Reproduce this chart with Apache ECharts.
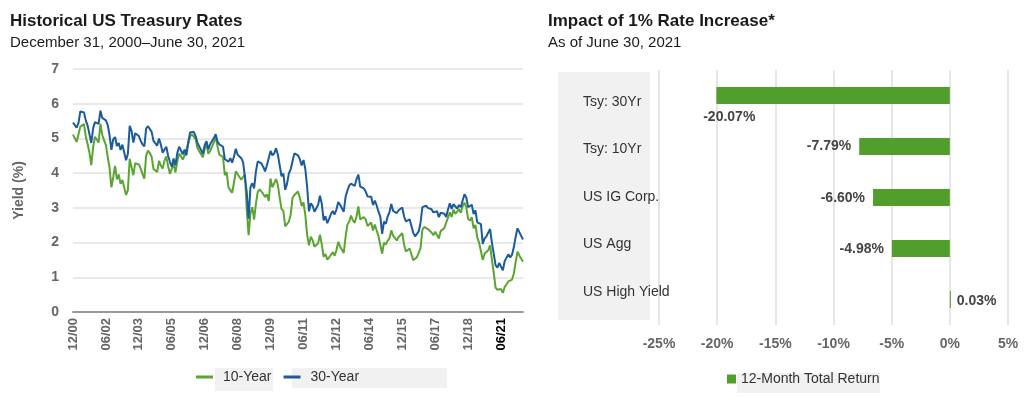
<!DOCTYPE html>
<html>
<head>
<meta charset="utf-8">
<script src="https://cdn.jsdelivr.net/npm/echarts@6/dist/echarts.min.js"></script>
<style>
  html, body { margin: 0; padding: 0; background: #fff; }
  #main { width: 1024px; height: 397px; }
</style>
</head>
<body>
<div id="main"></div>
<script>
// month-end yields, 12/2000 - 06/2021
var tenYear = [
    5.11,
    5.11, 4.90, 4.92, 5.34, 5.38, 5.41, 5.05, 4.83, 4.59, 4.23, 4.75, 5.05,
    5.03, 4.88, 5.42, 5.10, 5.05, 4.80, 4.46, 4.14, 3.59, 3.89, 4.21, 3.82,
    3.96, 3.69, 3.80, 3.84, 3.37, 3.51, 4.41, 4.46, 3.94, 4.29, 4.33, 4.25,
    4.13, 3.97, 3.84, 4.51, 4.65, 4.58, 4.47, 4.12, 4.12, 4.03, 4.35, 4.22,
    4.13, 4.36, 4.48, 4.20, 3.98, 3.94, 4.28, 4.02, 4.33, 4.56, 4.49, 4.39,
    4.52, 4.55, 4.85, 5.05, 5.12, 5.14, 4.98, 4.73, 4.63, 4.60, 4.46, 4.70,
    4.82, 4.56, 4.64, 4.63, 4.89, 5.03, 4.77, 4.53, 4.58, 4.47, 3.94, 4.03,
    3.59, 3.51, 3.43, 3.73, 4.05, 3.97, 3.95, 3.81, 3.83, 3.97, 2.92, 2.21,
    2.84, 3.02, 2.66, 3.12, 3.46, 3.53, 3.48, 3.40, 3.31, 3.39, 3.20, 3.84,
    3.59, 3.61, 3.83, 3.66, 3.29, 2.97, 2.91, 2.47, 2.51, 2.60, 2.80, 3.29,
    3.37, 3.42, 3.47, 3.29, 3.05, 3.16, 2.80, 2.22, 1.92, 2.17, 2.07, 1.88,
    1.83, 1.98, 2.23, 1.95, 1.59, 1.67, 1.51, 1.57, 1.65, 1.72, 1.62, 1.78,
    2.02, 1.89, 1.87, 1.70, 2.16, 2.52, 2.60, 2.78, 2.64, 2.57, 2.75, 3.04,
    2.67, 2.66, 2.73, 2.67, 2.48, 2.53, 2.58, 2.35, 2.52, 2.35, 2.18, 2.17,
    1.68, 2.00, 1.94, 2.05, 2.12, 2.35, 2.20, 2.22, 2.06, 2.16, 2.21, 2.27,
    1.94, 1.74, 1.78, 1.83, 1.85, 1.49, 1.46, 1.58, 1.60, 1.84, 2.37, 2.45,
    2.45, 2.39, 2.40, 2.29, 2.21, 2.31, 2.30, 2.12, 2.33, 2.38, 2.42, 2.40,
    2.72, 2.87, 2.74, 2.95, 2.83, 2.85, 2.96, 2.86, 3.05, 3.15, 3.01, 2.69,
    2.63, 2.73, 2.41, 2.51, 2.14, 2.00, 2.02, 1.50, 1.68, 1.69, 1.78, 1.92,
    1.51, 1.13, 0.70, 0.64, 0.65, 0.66, 0.55, 0.72, 0.69, 0.88, 0.84, 0.93,
    1.11, 1.44, 1.74, 1.63, 1.58, 1.45
];
var thirtyYear = [
    5.46,
    5.50, 5.31, 5.44, 5.78, 5.76, 5.75, 5.52, 5.37, 5.42, 4.87, 5.29, 5.47,
    5.43, 5.42, 5.80, 5.59, 5.62, 5.52, 5.38, 5.08, 4.67, 4.98, 5.04, 4.78,
    4.87, 4.67, 4.82, 4.77, 4.37, 4.56, 5.36, 5.22, 4.88, 5.15, 5.12, 5.07,
    4.93, 4.83, 4.77, 5.29, 5.35, 5.30, 5.19, 4.93, 4.88, 4.79, 5.00, 4.83,
    4.59, 4.68, 4.76, 4.50, 4.32, 4.19, 4.42, 4.23, 4.57, 4.76, 4.66, 4.54,
    4.68, 4.51, 4.89, 5.17, 5.15, 5.19, 5.07, 4.88, 4.77, 4.72, 4.56, 4.81,
    4.92, 4.68, 4.84, 4.81, 5.01, 5.12, 4.91, 4.83, 4.84, 4.76, 4.40, 4.45,
    4.33, 4.43, 4.30, 4.48, 4.70, 4.53, 4.58, 4.43, 4.31, 4.36, 3.44, 2.69,
    3.59, 3.71, 3.56, 4.05, 4.34, 4.32, 4.28, 4.18, 4.05, 4.23, 4.20, 4.64,
    4.51, 4.57, 4.72, 4.53, 4.22, 3.91, 3.99, 3.52, 3.69, 3.99, 4.11, 4.34,
    4.57, 4.53, 4.51, 4.40, 4.22, 4.38, 4.12, 3.60, 2.90, 3.13, 3.06, 2.89,
    2.94, 3.09, 3.35, 3.12, 2.64, 2.76, 2.56, 2.68, 2.82, 2.91, 2.81, 2.95,
    3.17, 3.09, 3.10, 2.89, 3.31, 3.50, 3.64, 3.70, 3.69, 3.63, 3.83, 3.96,
    3.61, 3.59, 3.56, 3.47, 3.33, 3.36, 3.32, 3.08, 3.21, 3.07, 2.89, 2.75,
    2.25, 2.60, 2.54, 2.75, 2.88, 3.11, 2.91, 2.93, 2.85, 2.93, 2.98, 3.01,
    2.75, 2.61, 2.61, 2.67, 2.64, 2.28, 2.18, 2.23, 2.32, 2.58, 3.02, 3.07,
    3.06, 3.00, 3.02, 2.96, 2.87, 2.84, 2.90, 2.73, 2.86, 2.88, 2.83, 2.74,
    2.95, 3.13, 2.97, 3.11, 3.04, 2.98, 3.08, 3.02, 3.21, 3.39, 3.30, 3.02,
    3.00, 3.09, 2.82, 2.93, 2.58, 2.53, 2.53, 1.96, 2.12, 2.18, 2.21, 2.39,
    2.00, 1.68, 1.35, 1.28, 1.41, 1.41, 1.20, 1.47, 1.46, 1.66, 1.57, 1.65,
    1.87, 2.17, 2.41, 2.30, 2.29, 2.09
];
var tickLabels = ['12/00', '06/02', '12/03', '06/05', '12/06', '06/08', '12/09',
    '06/11', '12/12', '06/14', '12/15', '06/17', '12/18', '06/21'];
var tickStep = 18;

var assets = ['Tsy: 30Yr', 'Tsy: 10Yr', 'US IG Corp.', 'US Agg', 'US High Yield'];
var totalReturn = [-20.07, -7.79, -6.60, -4.98, 0.03];

// month labels MM/YY starting 12/00
var months = [];
for (var i = 0; i < tenYear.length; i++) {
    var m = (11 + i) % 12 + 1;
    var y = Math.floor((11 + i) / 12);
    months.push((m < 10 ? '0' : '') + m + '/' + (y < 10 ? '0' : '') + y);
}

var green = '#5aa532';
var blue = '#1b5b9c';
var barGreen = '#519e2c';

// label spot for each bar: [position, offset]
var labelPos = [
    ['left', [45, 22]],
    ['left', [-2, 0]],
    ['left', [-2, 1]],
    ['left', [-2, 1]],
    ['right', [0, 2]]
];
var barData = totalReturn.map(function (v, i) {
    return {
        value: v,
        label: { position: labelPos[i][0], offset: labelPos[i][1] }
    };
});

var myChart = echarts.init(document.getElementById('main'));

var option = {
    animation: false,
    textStyle: { fontFamily: 'Liberation Sans, Arial, sans-serif' },
    title: [{
        text: 'Historical US Treasury Rates',
        subtext: 'December 31, 2000\u2013June 30, 2021',
        left: 10, top: 13, padding: 0, itemGap: 5,
        textStyle: { fontSize: 17, fontWeight: 'bold', color: '#1a1a1a' },
        subtextStyle: { fontSize: 15, color: '#1a1a1a' }
    }, {
        text: 'Impact of 1% Rate Increase*',
        subtext: 'As of June 30, 2021',
        left: 548, top: 13, padding: 0, itemGap: 5,
        textStyle: { fontSize: 17, fontWeight: 'bold', color: '#1a1a1a' },
        subtextStyle: { fontSize: 15, color: '#1a1a1a' }
    }],
    legend: [{
        left: 196, top: 370, padding: 0,
        itemWidth: 17, itemHeight: 3, itemGap: 12,
        textStyle: { fontSize: 14, color: '#333', padding: [0, 0, 0, 5] },
        data: [{ name: '10-Year', icon: 'rect' }, { name: '30-Year', icon: 'rect' }]
    }, {
        left: 727, top: 372, padding: 0,
        itemWidth: 9, itemHeight: 9,
        icon: 'rect',
        textStyle: { fontSize: 14, color: '#333' },
        data: ['12-Month Total Return']
    }],
    graphic: [
        { type: 'rect', z: -10, shape: { x: 215, y: 368, width: 58, height: 23 }, style: { fill: '#f1f1f1' } },
        { type: 'rect', z: -10, shape: { x: 292, y: 368, width: 155, height: 20 }, style: { fill: '#f1f1f1' } },
        { type: 'rect', z: -10, shape: { x: 737, y: 373, width: 143, height: 20 }, style: { fill: '#f1f1f1' } },
        { type: 'rect', z: -10, shape: { x: 558, y: 72, width: 92, height: 248 }, style: { fill: '#f1f1f1' } }
    ],
    grid: [
        { left: 73, top: 69, width: 450, height: 243 },
        { left: 659, top: 70, width: 349, height: 255 },
        { left: 583, top: 78, width: 10, height: 238 }
    ],
    xAxis: [{
        gridIndex: 0,
        type: 'category',
        boundaryGap: false,
        data: months,
        axisLine: { lineStyle: { color: '#999', width: 2 } },
        axisTick: { show: false },
        axisLabel: {
            rotate: 90,
            margin: 6,
            fontSize: 13,
            fontWeight: 'bold',
            color: '#666',
            interval: function (index) {
                return index % tickStep === 0 && index / tickStep < tickLabels.length;
            },
            formatter: function (value) {
                var k = months.indexOf(value) / tickStep;
                if (k === tickLabels.length - 1) {
                    return '{last|' + tickLabels[k] + '}';
                }
                return tickLabels[k];
            },
            rich: {
                last: { color: '#000', fontWeight: 'bold', fontSize: 13 }
            }
        }
    }, {
        gridIndex: 1,
        type: 'value',
        min: -25,
        max: 5,
        interval: 5,
        axisLine: { show: false },
        axisTick: { show: false },
        splitLine: { lineStyle: { color: '#dedede', width: 1.5 } },
        axisLabel: {
            margin: 12,
            fontSize: 14,
            fontWeight: 'bold',
            color: '#666',
            formatter: '{value}%'
        }
    }, {
        gridIndex: 2,
        type: 'value',
        show: false
    }],
    yAxis: [{
        gridIndex: 0,
        type: 'value',
        min: 0,
        max: 7,
        interval: 1,
        name: 'Yield (%)',
        nameLocation: 'middle',
        nameGap: 47,
        nameTextStyle: { fontSize: 14, fontWeight: 'bold', color: '#666' },
        axisLine: { show: false },
        axisTick: { show: false },
        splitLine: { lineStyle: { color: '#e2e2e2', width: 1.5 } },
        axisLabel: { margin: 14, fontSize: 14, fontWeight: 'bold', color: '#666' }
    }, {
        gridIndex: 1,
        type: 'category',
        inverse: true,
        data: assets,
        axisLine: { show: false },
        axisTick: { show: false },
        axisLabel: { show: false }
    }, {
        gridIndex: 2,
        type: 'category',
        inverse: true,
        data: assets,
        axisLine: { show: false },
        axisTick: { show: false },
        axisLabel: { align: 'left', margin: 0, fontSize: 14, color: '#333' }
    }],
    series: [{
        name: '10-Year',
        type: 'line',
        xAxisIndex: 0,
        yAxisIndex: 0,
        data: tenYear,
        symbol: 'none',
        color: green,
        lineStyle: { width: 2, color: green }
    }, {
        name: '30-Year',
        type: 'line',
        xAxisIndex: 0,
        yAxisIndex: 0,
        data: thirtyYear,
        symbol: 'none',
        color: blue,
        lineStyle: { width: 2, color: blue }
    }, {
        name: '12-Month Total Return',
        type: 'bar',
        xAxisIndex: 1,
        yAxisIndex: 1,
        data: barData,
        barWidth: 17,
        barMinHeight: 1,
        color: barGreen,
        label: {
            show: true,
            distance: 6,
            fontSize: 14,
            fontWeight: 'bold',
            color: '#444',
            formatter: function (p) {
                return p.value.toFixed(2) + '%';
            }
        }
    }]
};

myChart.setOption(option);
</script>
</body>
</html>
